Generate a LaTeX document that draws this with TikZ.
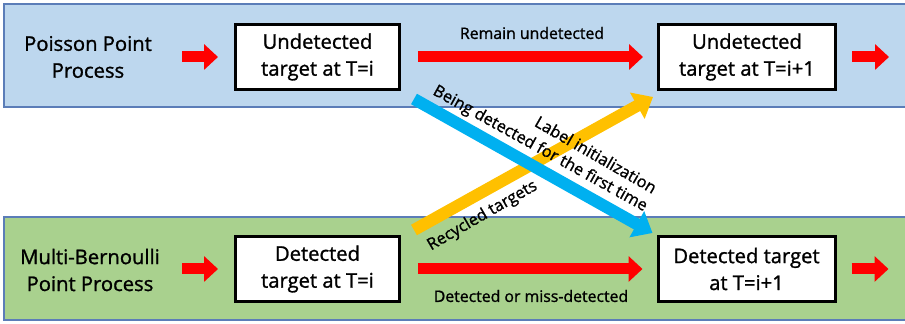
\documentclass[tikz,border=0pt]{standalone}
\usepackage{fontspec}
\setmainfont{Open Sans}[RawFeature={embolden=1.2}]
\usetikzlibrary{arrows.meta}
\definecolor{bandblue}{HTML}{BDD7EE}
\definecolor{bandgreen}{HTML}{A9D18E}
\definecolor{bandline}{HTML}{5B7DB8}
\definecolor{detblue}{HTML}{00B0F0}
\definecolor{recyellow}{HTML}{FFC000}
\begin{document}
\begin{tikzpicture}[x=1cm,y=1cm,
  every node/.style={font=\fontsize{11.5}{15.3}\selectfont,align=center},
  target/.style={draw=black,line width=1.7pt,fill=white,minimum height=1.3cm,inner sep=2pt},
  band/.style={draw=bandline,line width=0.8pt},
  tag/.style={font=\fontsize{9}{11}\selectfont},
  slanttag/.style={font=\fontsize{9.3}{11}\selectfont},
  flow/.style={draw=red,line width=0.22cm,-{Triangle[length=0.28cm,width=0.5cm]}},
  jump/.style={line width=0.24cm,-{Triangle[length=0.36cm,width=0.58cm]}}]
\useasboundingbox (0,0) rectangle (18.1,6.48);
\draw[band,fill=bandblue] (0.08,4.34) rectangle (18.4,6.4);
\draw[band,fill=bandgreen] (0.08,0.08) rectangle (18.4,2.14);
\node (ppp) at (1.76,5.34) {Poisson Point\\Process};
\node (mbpp) at (1.8,1.08) {Multi-Bernoulli\\Point Process};
\node[target,minimum width=3.28cm] (u1) at (6.35,5.34) {Undetected\\target at T=i};
\node[target,minimum width=3.54cm] (u2) at (14.94,5.34) {Undetected\\target at T=i+1};
\node[target,minimum width=3.28cm] (d1) at (6.35,1.10) {Detected\\target at T=i};
\node[target,minimum width=3.54cm] (d2) at (14.93,1.10) {Detected target\\at T=i+1};
\draw[flow] ([xshift=-1.04cm]u1.west) -- ([xshift=-0.32cm]u1.west);
\draw[flow] ([xshift=-1.04cm]d1.west) -- ([xshift=-0.32cm]d1.west);
\draw[flow,shorten <=0.34cm,shorten >=0.28cm] (u1) -- (u2);
\draw[flow,shorten <=0.34cm,shorten >=0.28cm] (d1) -- (d2);
\draw[flow] ([xshift=0.3cm]u2.east) -- ([xshift=1.04cm]u2.east);
\draw[flow] ([xshift=0.3cm]d2.east) -- ([xshift=1.04cm]d2.east);
\draw[jump,recyellow] ([shift={(0.26,0.10)}]d1.north east) -- ([shift={(-0.08,-0.12)}]u2.south west);
\draw[jump,detblue] ([shift={(0.26,-0.16)}]u1.south east) -- ([shift={(-0.08,0.04)}]d2.north west);
\node[tag] (remain) at (10.64,5.82) {Remain undetected};
\node[tag] (missdet) at (10.62,0.56) {Detected or miss-detected};
\node[slanttag,rotate=-29] (firstdet) at (10.80,3.50) {Being detected for the first time};
\node[slanttag,rotate=-30] (labelinit) at (11.92,3.39) {Label initialization};
\node[slanttag,rotate=30] (recycled) at (9.65,2.16) {Recycled targets};
\end{tikzpicture}
\end{document}
